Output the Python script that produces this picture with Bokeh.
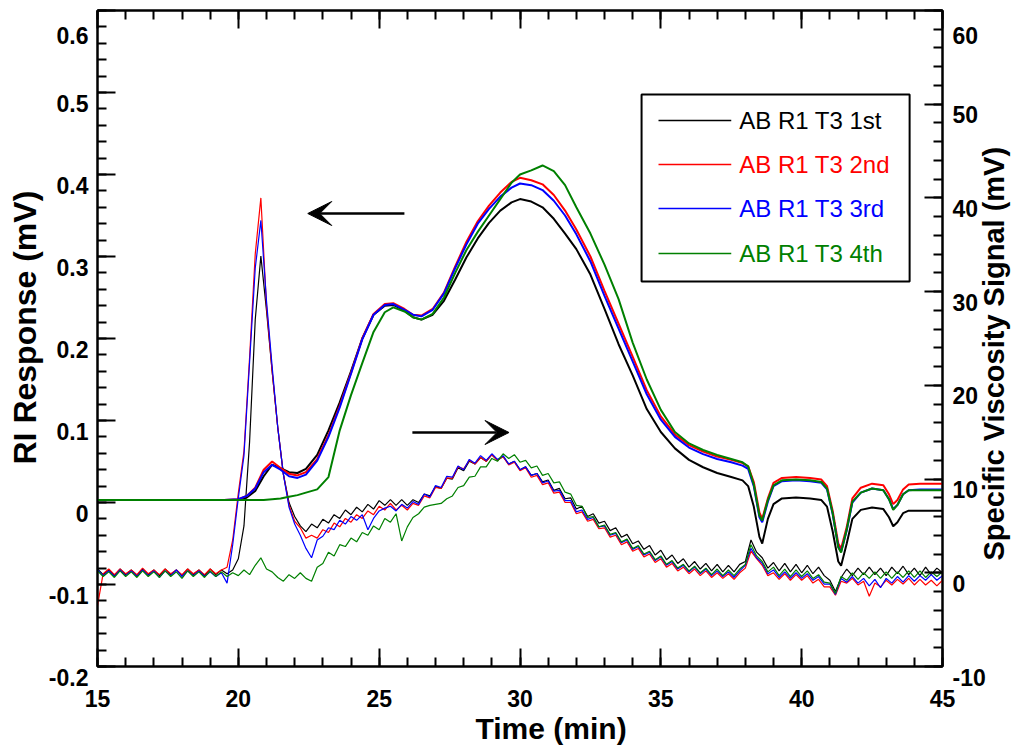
import math
from bokeh.plotting import figure
from bokeh.models import (Range1d, LinearAxis, FixedTicker, Arrow, VeeHead, BoxAnnotation,
                          CustomJSTickFormatter, Label, Title)
from bokeh.embed import file_html
from bokeh.resources import INLINE

# ---------------- data ----------------
# RI response (left axis, mV)
ri_time = [15, 19.5, 20.0, 20.3, 20.6, 20.9, 21.2, 21.5, 21.8, 22.1,
           22.4, 22.8, 23.2, 23.6, 24.0, 24.4, 24.8, 25.2, 25.5, 25.9,
           26.2, 26.5, 26.9, 27.3, 27.7, 28.1, 28.5, 28.9, 29.3, 29.7,
           30.0, 30.4, 30.8, 31.2, 31.6, 32.0, 32.5, 33.0, 33.5, 34.0,
           34.5, 35.0, 35.5, 36.0, 36.5, 37.0, 37.5, 37.9, 38.1, 38.3,
           38.5, 38.6, 38.8, 39.0, 39.3, 39.8, 40.3, 40.7, 40.9, 41.1,
           41.3, 41.4, 41.6, 41.8, 42.1, 42.5, 42.9, 43.1, 43.25, 43.4,
           43.6, 43.8, 44.2, 45]
ri_1st = [0.003, 0.003, 0.003, 0.006, 0.014, 0.032, 0.046, 0.042, 0.037, 0.036,
          0.041, 0.058, 0.088, 0.122, 0.160, 0.200, 0.229, 0.240, 0.241, 0.234,
          0.226, 0.223, 0.229, 0.246, 0.272, 0.299, 0.322, 0.341, 0.356, 0.366,
          0.370, 0.367, 0.360, 0.346, 0.328, 0.309, 0.278, 0.236, 0.193, 0.155,
          0.114, 0.086, 0.066, 0.052, 0.043, 0.036, 0.031, 0.027, 0.020, -0.005,
          -0.042, -0.050, -0.020, -0.002, 0.005, 0.006, 0.005, 0.003, -0.005, -0.035,
          -0.072, -0.077, -0.050, -0.020, -0.009, -0.006, -0.008, -0.018, -0.029, -0.024,
          -0.013, -0.010, -0.010, -0.010]
ri_2nd = [0.003, 0.003, 0.004, 0.008, 0.018, 0.040, 0.050, 0.042, 0.035, 0.033,
          0.037, 0.053, 0.082, 0.118, 0.158, 0.200, 0.230, 0.242, 0.243, 0.236,
          0.229, 0.228, 0.236, 0.256, 0.288, 0.318, 0.343, 0.362, 0.378, 0.391,
          0.396, 0.393, 0.388, 0.375, 0.356, 0.333, 0.300, 0.258, 0.218, 0.178,
          0.137, 0.105, 0.083, 0.070, 0.062, 0.056, 0.052, 0.048, 0.044, 0.025,
          -0.012, -0.020, 0.005, 0.024, 0.030, 0.031, 0.030, 0.028, 0.020, -0.010,
          -0.050, -0.056, -0.030, 0.005, 0.018, 0.023, 0.021, 0.010, -0.002, 0.003,
          0.016, 0.022, 0.023, 0.023]
ri_3rd = [0.003, 0.003, 0.004, 0.008, 0.017, 0.037, 0.046, 0.040, 0.032, 0.030,
          0.034, 0.051, 0.080, 0.116, 0.157, 0.199, 0.229, 0.241, 0.242, 0.235,
          0.229, 0.227, 0.235, 0.255, 0.286, 0.315, 0.340, 0.358, 0.373, 0.384,
          0.389, 0.387, 0.381, 0.368, 0.350, 0.327, 0.294, 0.252, 0.212, 0.172,
          0.132, 0.101, 0.080, 0.067, 0.059, 0.053, 0.049, 0.045, 0.041, 0.020,
          -0.018, -0.024, 0.001, 0.020, 0.026, 0.027, 0.026, 0.024, 0.016, -0.014,
          -0.054, -0.060, -0.034, 0.000, 0.012, 0.017, 0.015, 0.004, -0.008, -0.003,
          0.010, 0.015, 0.016, 0.016]
ri_4th = [0.003, 0.003, 0.003, 0.003, 0.003, 0.003, 0.004, 0.005, 0.007, 0.009,
          0.012, 0.016, 0.031, 0.088, 0.131, 0.170, 0.208, 0.232, 0.238, 0.233,
          0.226, 0.223, 0.230, 0.250, 0.280, 0.308, 0.330, 0.350, 0.370, 0.390,
          0.400, 0.405, 0.411, 0.404, 0.387, 0.360, 0.328, 0.290, 0.248, 0.195,
          0.150, 0.113, 0.086, 0.072, 0.064, 0.058, 0.053, 0.049, 0.044, 0.022,
          -0.016, -0.022, 0.003, 0.021, 0.027, 0.028, 0.027, 0.025, 0.017, -0.013,
          -0.055, -0.061, -0.033, 0.001, 0.012, 0.017, 0.015, 0.004, -0.009, -0.003,
          0.010, 0.015, 0.015, 0.015]

# Specific viscosity signal (right axis, mV), sampled every 0.2 min from 15 to 45 min
visc_time = [round(15 + 0.2 * i, 1) for i in range(151)]
visc_1st = [0.4, -0.2, 0.3, -0.3, 0.4, -0.2, 0.3, -0.3, 0.4, -0.2,
            0.3, -0.3, 0.4, -0.2, 0.3, -0.3, 0.4, -0.2, 0.3, -0.3,
            0.4, -0.2, 0.3, -0.1, 0.3, 1.5, 5.0, 14.0, 27.0, 33.8,
            28.0, 21.5, 15.5, 10.5, 7.5, 6.0, 5.0, 4.4, 5.2, 4.8,
            5.7, 5.3, 6.2, 5.8, 6.7, 6.2, 7.0, 6.5, 7.3, 6.8,
            7.7, 7.2, 7.8, 7.2, 7.8, 7.2, 7.8, 7.5, 8.4, 8.2,
            9.2, 9.0, 10.1, 10.0, 11.2, 10.9, 11.9, 11.6, 12.3, 11.9,
            12.6, 12.0, 12.4, 11.6, 11.9, 11.0, 11.3, 10.4, 10.6, 9.7,
            9.9, 8.8, 9.0, 7.9, 8.0, 6.8, 7.1, 6.0, 6.3, 5.3,
            5.5, 4.5, 4.8, 3.8, 4.1, 3.1, 3.4, 2.5, 2.9, 1.9,
            2.4, 1.4, 1.9, 1.0, 1.5, 0.6, 1.2, 0.4, 1.0, 0.2,
            0.9, 0.1, 0.8, 0.1, 0.9, 1.2, 3.5, 2.2, 1.6, 0.5,
            1.1, 0.2, 1.0, 0.1, 0.9, 0.0, 0.8, -0.1, 0.6, -0.3,
            -0.8, -2.0, -0.5, 0.4, -0.3, 0.5, -0.2, 0.6, -0.2, 0.5,
            -0.3, 0.6, -0.1, 0.7, -0.2, 0.5, -0.3, 0.6, -0.2, 0.5,
            0.0]
visc_2nd = [-3.5, -0.1, 0.4, -0.2, 0.4, -0.1, 0.3, -0.2, 0.5, -0.1,
            0.3, -0.2, 0.4, -0.1, 0.3, -0.2, 0.4, -0.1, 0.3, -0.2,
            0.4, -0.1, 0.3, 0.6, 3.5, 8.5, 13.0, 23.0, 34.0, 40.0,
            28.5, 21.5, 15.5, 10.5, 7.2, 5.5, 4.8, 3.7, 4.0, 3.7,
            4.6, 4.3, 5.3, 4.9, 5.8, 5.4, 6.2, 5.8, 6.6, 6.2,
            7.1, 6.7, 7.4, 6.7, 7.2, 6.7, 7.4, 7.2, 8.2, 8.0,
            9.1, 9.0, 10.1, 10.1, 11.3, 11.1, 12.0, 11.6, 12.3, 11.9,
            12.6, 12.0, 12.4, 11.5, 11.8, 10.9, 11.2, 10.2, 10.4, 9.4,
            9.6, 8.5, 8.6, 7.5, 7.5, 6.3, 6.5, 5.5, 5.7, 4.7,
            4.8, 3.8, 4.0, 3.0, 3.3, 2.3, 2.6, 1.7, 2.0, 1.1,
            1.5, 0.6, 1.0, 0.2, 0.6, -0.1, 0.4, -0.3, 0.2, -0.5,
            0.0, -0.6, -0.1, -0.7, 0.0, 0.5, 2.3, 1.5, 0.8, -0.3,
            0.0, -0.7, -0.1, -0.8, -0.2, -0.8, -0.3, -1.1, -0.7, -1.5,
            -1.5, -2.4, -0.9, -1.1, -0.6, -1.3, -0.9, -2.5, -1.1, -1.5,
            -0.8, -1.3, -0.7, -1.2, -0.6, -1.3, -0.7, -1.3, -0.8, -1.4,
            -0.8]
visc_3rd = [0.3, -0.3, 0.2, -0.4, 0.3, -0.3, 0.2, -0.4, 0.3, -0.3,
            0.2, -0.5, 0.2, -0.3, 0.3, -0.4, 0.2, -0.3, 0.2, -0.4,
            0.1, -0.4, 0.0, -1.1, 3.0, 8.0, 12.5, 22.5, 32.5, 37.6,
            29.0, 22.0, 15.5, 10.5, 7.0, 5.2, 4.0, 2.6, 1.6, 3.5,
            3.9, 4.8, 4.6, 5.6, 5.2, 6.0, 5.6, 6.2, 4.6, 5.8,
            6.6, 6.9, 7.1, 6.6, 7.3, 6.9, 7.6, 7.3, 8.4, 8.1,
            9.3, 9.1, 10.3, 10.2, 11.4, 11.0, 12.1, 11.7, 12.5, 12.0,
            12.7, 12.1, 12.5, 11.6, 11.9, 11.0, 11.3, 10.4, 10.6, 9.6,
            9.8, 8.7, 8.8, 7.7, 7.7, 6.5, 6.7, 5.7, 5.9, 4.9,
            5.0, 4.0, 4.2, 3.2, 3.5, 2.5, 2.8, 1.9, 2.2, 1.3,
            1.7, 0.8, 1.2, 0.4, 0.8, 0.1, 0.6, -0.1, 0.4, -0.3,
            0.2, -0.4, 0.1, -0.5, 0.2, 0.8, 2.6, 1.6, 1.0, -0.1,
            0.3, -0.5, 0.1, -0.6, 0.0, -0.6, -0.1, -0.8, -0.4, -1.2,
            -1.2, -2.3, -0.6, -1.0, -0.4, -1.1, -0.6, -1.4, -0.7, -1.6,
            -0.6, -1.1, -0.4, -1.0, -0.3, -0.9, -0.3, -0.8, -0.2, -0.8,
            -0.3]
visc_4th = [0.2, -0.4, 0.1, -0.5, 0.2, -0.4, 0.1, -0.5, 0.2, -0.4,
            0.1, -0.5, 0.2, -0.4, 0.1, -0.6, 0.2, -0.4, 0.1, -0.5,
            0.2, -0.4, 0.1, -0.4, 0.0, -0.3, 0.3, -0.2, 0.8, 1.6,
            0.4, 0.1, -0.5, -0.9, -0.2, -0.6, 0.0, -0.6, -0.9, 0.6,
            1.0, 2.2, 1.8, 3.0, 2.8, 3.7, 3.3, 4.3, 4.0, 5.0,
            4.6, 5.8, 5.4, 6.3, 3.4, 4.9, 5.9, 6.3, 7.0, 7.2,
            7.3, 7.4, 7.9, 8.2, 9.1, 9.3, 10.2, 10.3, 11.3, 11.3,
            12.2, 11.9, 12.7, 12.2, 12.6, 11.8, 12.0, 11.2, 11.4, 10.4,
            10.6, 9.6, 9.7, 8.6, 8.4, 7.2, 7.1, 5.9, 6.0, 4.9,
            5.1, 4.1, 4.3, 3.3, 3.6, 2.6, 2.9, 2.0, 2.3, 1.4,
            1.8, 0.9, 1.3, 0.5, 0.9, 0.2, 0.7, 0.0, 0.5, -0.2,
            0.4, -0.3, 0.3, -0.3, 0.4, 0.9, 3.0, 1.8, 1.2, 0.1,
            0.6, -0.3, 0.4, -0.4, 0.3, -0.4, 0.2, -0.6, -0.2, -1.0,
            -1.1, -2.2, -0.4, -0.8, 0.0, -0.7, 0.0, -0.6, 0.1, -0.6,
            0.1, -0.6, 0.1, -0.5, 0.2, -0.5, 0.2, -0.5, 0.1, -0.4,
            0.1]

series_labels = ["AB R1 T3 1st", "AB R1 T3 2nd", "AB R1 T3 3rd", "AB R1 T3 4th"]
series_colors = ["#000000", "#ff0000", "#0000ff", "#008000"]

x_ticks = [15, 20, 25, 30, 35, 40, 45]
x_minor = list(range(15, 46))
ri_ticks = [-0.2, -0.1, 0, 0.1, 0.2, 0.3, 0.4, 0.5, 0.6]
ri_tick_labels = ["-0.2", "-0.1", "0", "0.1", "0.2", "0.3", "0.4", "0.5", "0.6"]
ri_minor = [round(-0.2 + 0.02 * k, 2) for k in range(41)]
visc_ticks = [-10, 0, 10, 20, 30, 40, 50, 60]
visc_tick_labels = ["-10", "0", "10", "20", "30", "40", "50", "60"]
visc_minor = list(range(-10, 61, 2))

x_title = "Time (min)"
left_title = "RI Response (mV)"
right_title = "Specific Viscosity Signal (mV)"

# ---------------- layout constants (pixels) ----------------
W, H = 1029, 752
FL, FR, FT, FB = 97, 945, 10, 666          # frame edges in the page
X0, X1, Y0, Y1 = 15, 45, -0.2, 0.6
V0, V1 = -10, 60
PX_X = (FR - FL) / (X1 - X0)
PX_Y = (FB - FT) / (Y1 - Y0)
PX_V = (FB - FT) / (V1 - V0)


def dx(px):   # page x pixel -> data x
    return X0 + (px - FL) / PX_X


def dy(py):   # page y pixel -> RI data y
    return Y1 - (py - FT) / PX_Y


def dv(py):   # page y pixel -> viscosity data y
    return V1 - (py - FT) / PX_V


FONT = "Liberation Sans"
X_TITLE_PX = 30
Y_TITLE_PX = 32
R_TITLE_PX = 29

# ---------------- figure ----------------
p = figure(width=W, height=H, x_range=Range1d(X0, X1), y_range=Range1d(Y0, Y1),
           output_backend="svg", toolbar_location=None,
           min_border_left=FL, min_border_right=W - FR, min_border_top=FT,
           min_border_bottom=H - FB,
           background_fill_color="white", border_fill_color="white")
p.extra_y_ranges = {"visc": Range1d(V0, V1)}
p.xgrid.visible = False
p.ygrid.visible = False
p.outline_line_color = "black"
p.outline_line_width = 2


def style_axis(ax):
    ax.axis_line_width = 2
    ax.axis_line_color = "black"
    ax.major_tick_line_width = 2
    ax.minor_tick_line_width = 2
    ax.major_tick_line_color = "black"
    ax.minor_tick_line_color = "black"
    ax.major_tick_in = 18
    ax.major_tick_out = 0
    ax.minor_tick_in = 9
    ax.minor_tick_out = 0
    ax.major_label_text_font = FONT
    ax.major_label_text_font_style = "bold"
    ax.major_label_text_font_size = "23px"
    ax.major_label_text_color = "black"


# y tick labels sit a little below their ticks in the original: an empty first line does that
shifted_label_js = """
let i = -1;
for (let k = 0; k < tv.length; k++) { if (Math.abs(tv[k] - tick) < 1e-9) { i = k; } }
return '\\n' + (i >= 0 ? tl[i] : '');
"""

xa = p.xaxis[0]
style_axis(xa)
xa.ticker = FixedTicker(ticks=x_ticks, minor_ticks=x_minor)
xa.major_label_standoff = 23

ya = p.yaxis[0]
style_axis(ya)
ya.ticker = FixedTicker(ticks=ri_ticks, minor_ticks=ri_minor)
ya.formatter = CustomJSTickFormatter(args=dict(tv=ri_ticks, tl=ri_tick_labels),
                                     code=shifted_label_js)
ya.major_label_text_line_height = 0.85
ya.major_label_standoff = 9

ra = LinearAxis(y_range_name="visc")
style_axis(ra)
ra.ticker = FixedTicker(ticks=visc_ticks, minor_ticks=visc_minor)
ra.formatter = CustomJSTickFormatter(args=dict(tv=visc_ticks, tl=visc_tick_labels),
                                     code=shifted_label_js)
ra.major_label_text_line_height = 0.85
ra.major_label_standoff = 10
p.add_layout(ra, "right")

# right-hand title: rotated to read upwards, drawn as the single label of a bare axis
RIGHT_TITLE_CENTER = 353
title_anchor = [dv(RIGHT_TITLE_CENTER + 0.5 * 14.28 * R_TITLE_PX)]   # lower end of the text
rt = LinearAxis(y_range_name="visc")
rt.ticker = FixedTicker(ticks=title_anchor, minor_ticks=[])
rt.formatter = CustomJSTickFormatter(args=dict(t=right_title), code="return t")
rt.major_label_orientation = math.pi / 2
rt.major_label_text_font = FONT
rt.major_label_text_font_style = "bold"
rt.major_label_text_font_size = f"{R_TITLE_PX}px"
rt.major_label_text_color = "black"
rt.major_label_standoff = 6
rt.axis_line_alpha = 0
rt.major_tick_line_alpha = 0
rt.minor_tick_line_alpha = 0
rt.major_tick_in = 0
rt.major_tick_out = 0
p.add_layout(rt, "right")

ta = LinearAxis()
style_axis(ta)
ta.ticker = FixedTicker(ticks=x_ticks, minor_ticks=x_minor)
ta.formatter = CustomJSTickFormatter(code="return ''")
ta.major_label_text_font_size = "1px"
ta.major_label_standoff = 0
p.add_layout(ta, "above")

# axis titles for x and left y (titles allow an offset along the axis)
p.add_layout(Title(text=x_title, align="left", offset=378, standoff=0,
                   text_font=FONT, text_font_style="bold", text_font_size=f"{X_TITLE_PX}px",
                   text_color="black"), "below")
p.add_layout(Title(text=left_title, align="left", offset=202, standoff=5,
                   text_font=FONT, text_font_style="bold", text_font_size=f"{Y_TITLE_PX}px",
                   text_color="black"), "left")

# ---------------- curves ----------------
ri_sets = [ri_1st, ri_2nd, ri_3rd, ri_4th]
visc_sets = [visc_1st, visc_2nd, visc_3rd, visc_4th]
for vals, col in zip(visc_sets, series_colors):
    p.line(visc_time, vals, line_color=col, line_width=1.2, y_range_name="visc")
for vals, col in zip(ri_sets, series_colors):
    p.line(ri_time, vals, line_color=col, line_width=2)

# ---------------- arrows ----------------
p.add_layout(Arrow(end=VeeHead(size=24, fill_color="black", line_color="black"),
                   line_width=2.5, line_color="black",
                   x_start=dx(405), y_start=dy(213), x_end=dx(308), y_end=dy(213)))
p.add_layout(Arrow(end=VeeHead(size=24, fill_color="black", line_color="black"),
                   line_width=2.5, line_color="black",
                   x_start=dx(413), y_start=dy(432), x_end=dx(510), y_end=dy(432)))

# ---------------- legend (box, line samples, coloured labels) ----------------
p.add_layout(BoxAnnotation(left=dx(643), right=dx(912), bottom=dy(281), top=dy(94),
                           fill_color="white", fill_alpha=1, line_color="black",
                           line_width=2, line_alpha=1, level="underlay"))
row_px = [120, 164, 208, 253]
p.segment(x0=[dx(660)] * 4, x1=[dx(733)] * 4, y0=[dy(r) for r in row_px],
          y1=[dy(r) for r in row_px], line_color=series_colors, line_width=1.5)
for lab, col, r in zip(series_labels, series_colors, row_px):
    p.add_layout(Label(x=dx(741), y=dy(r), text=lab, text_align="left",
                       text_baseline="middle", text_font=FONT, text_font_size="24px",
                       text_color=col))

open("out.html", "w").write(file_html(p, INLINE))
